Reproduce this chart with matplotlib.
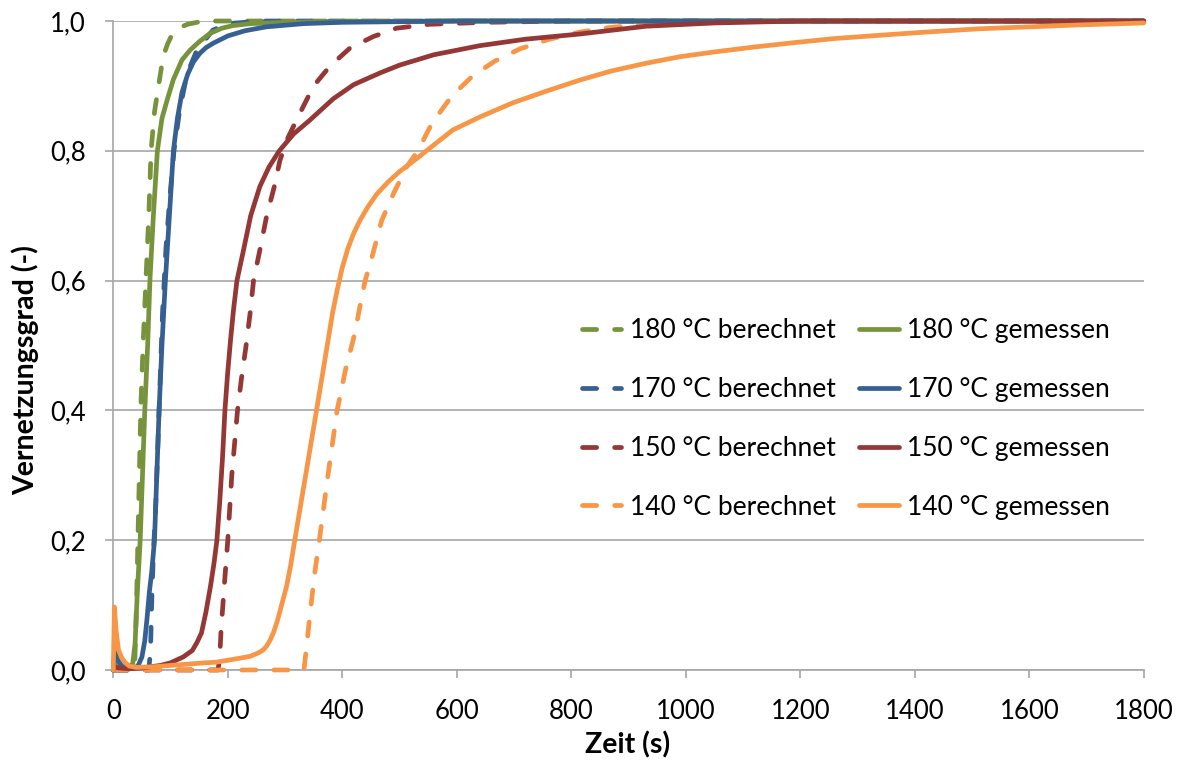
import matplotlib
matplotlib.use("Agg")
import matplotlib.pyplot as plt

plt.rcParams['font.family'] = ['Lato', 'DejaVu Sans']

# ---------------- data ----------------
t_180_ber = [0, 37, 39, 41, 43, 45.5, 48, 52, 57, 62, 66, 72, 78, 87, 95, 102, 116, 130, 146, 170, 200, 300, 600, 1800]
v_180_ber = [0, 0, 0.05, 0.12, 0.2, 0.3, 0.4, 0.5, 0.6, 0.7, 0.8, 0.86, 0.894, 0.945, 0.965, 0.978, 0.99, 0.995, 0.998, 1, 1, 1, 1, 1]

t_180_gem = [0, 3, 8, 15, 25, 34, 38, 42, 47, 51, 55, 60, 64, 70, 77, 85, 94, 105, 120, 134, 150, 169, 190, 209, 240, 300, 400, 600, 1000, 1800]
v_180_gem = [0, 0.02, 0.008, 0.003, 0.002, 0.01, 0.04, 0.12, 0.2, 0.3, 0.4, 0.5, 0.6, 0.7, 0.8, 0.85, 0.878, 0.91, 0.94, 0.955, 0.968, 0.981, 0.989, 0.993, 0.996, 0.998, 0.999, 1.0, 1.0, 1.0]

t_170_ber = [0, 62, 65, 67, 70, 74, 78, 82, 86, 92, 98, 106, 116, 129, 146, 174, 200, 260, 1800]
v_170_ber = [0, 0, 0.03, 0.1, 0.18, 0.25, 0.35, 0.45, 0.55, 0.65, 0.72, 0.8, 0.863, 0.919, 0.955, 0.986, 0.996, 1.0, 1.0]

t_170_gem = [0, 3, 8, 15, 25, 35, 43, 50, 55, 59, 63, 67, 72, 76, 80, 85, 91, 98, 105, 112, 120, 130, 140, 151, 162, 175, 200, 230, 267, 333, 400, 600, 1800]
v_170_gem = [0, 0.03, 0.015, 0.006, 0.003, 0.003, 0.006, 0.02, 0.045, 0.08, 0.12, 0.15, 0.2, 0.3, 0.4, 0.5, 0.6, 0.7, 0.8, 0.85, 0.89, 0.918, 0.937, 0.95, 0.959, 0.966, 0.977, 0.985, 0.991, 0.996, 0.998, 1.0, 1.0]

t_150_ber = [0, 183, 186, 188, 193, 200, 207, 217, 224, 232, 239, 245, 256, 268, 281, 291, 305, 326, 350, 378, 413, 454, 495, 553, 650, 800, 1800]
v_150_ber = [0, 0, 0.02, 0.057, 0.12, 0.2, 0.3, 0.4, 0.45, 0.5, 0.55, 0.6, 0.647, 0.7, 0.744, 0.785, 0.82, 0.858, 0.9, 0.93, 0.958, 0.976, 0.989, 0.995, 0.998, 1.0, 1.0]

t_150_gem = [0, 10, 30, 50, 82, 100, 122, 138, 146, 154, 162, 170, 176, 181, 186, 191, 195, 200, 205, 210, 216, 227, 240, 256, 272, 290, 315, 343, 384, 420, 466, 500, 560, 640, 720, 815, 931, 1050, 1200, 1800]
v_150_gem = [0.005, 0.003, 0.002, 0.003, 0.007, 0.011, 0.02, 0.03, 0.042, 0.057, 0.09, 0.13, 0.165, 0.2, 0.26, 0.33, 0.4, 0.46, 0.51, 0.555, 0.6, 0.645, 0.7, 0.745, 0.775, 0.8, 0.826, 0.847, 0.88, 0.902, 0.92, 0.932, 0.948, 0.962, 0.972, 0.98, 0.992, 0.997, 1.0, 1.0]

t_140_ber = [0, 333, 337, 345, 352, 360, 375, 391, 405, 422, 434, 440, 450, 469, 490, 513, 532, 557, 591, 626, 666, 710, 762, 815, 867, 931, 1000, 1100, 1250, 1800]
v_140_ber = [0, 0, 0.031, 0.097, 0.15, 0.2, 0.3, 0.4, 0.46, 0.519, 0.575, 0.6, 0.63, 0.693, 0.735, 0.776, 0.8, 0.843, 0.884, 0.914, 0.938, 0.957, 0.972, 0.983, 0.99, 0.995, 0.997, 0.999, 1.0, 1.0]

t_140_gem = [0, 2, 5, 9, 14, 20, 28, 40, 70, 100, 130, 160, 180, 200, 220, 239, 255, 262, 268, 274, 280, 286, 291, 297, 303, 310, 317, 336, 355, 370, 383, 391, 400, 410, 420, 431, 445, 460, 480, 500, 512, 530, 547, 570, 593, 640, 698, 760, 815, 870, 931, 990, 1047, 1120, 1193, 1260, 1338, 1420, 1512, 1600, 1687, 1800]
v_140_gem = [0, 0.097, 0.06, 0.031, 0.02, 0.012, 0.006, 0.004, 0.005, 0.007, 0.009, 0.011, 0.012, 0.015, 0.018, 0.021, 0.027, 0.031, 0.037, 0.046, 0.058, 0.074, 0.09, 0.11, 0.13, 0.162, 0.2, 0.3, 0.4, 0.48, 0.55, 0.585, 0.62, 0.65, 0.673, 0.693, 0.714, 0.733, 0.752, 0.768, 0.776, 0.788, 0.8, 0.816, 0.832, 0.852, 0.874, 0.893, 0.909, 0.923, 0.935, 0.945, 0.952, 0.96, 0.967, 0.973, 0.978, 0.983, 0.988, 0.991, 0.994, 0.997]

labels_ber = ["180 °C berechnet", "170 °C berechnet", "150 °C berechnet", "140 °C berechnet"]
labels_gem = ["180 °C gemessen", "170 °C gemessen", "150 °C gemessen", "140 °C gemessen"]
colors = ["#77933C", "#376092", "#953735", "#F79646"]

x_ticks = [0, 200, 400, 600, 800, 1000, 1200, 1400, 1600, 1800]
y_ticks = [0.0, 0.2, 0.4, 0.6, 0.8, 1.0]
y_tick_labels = ["0,0", "0,2", "0,4", "0,6", "0,8", "1,0"]

# ---------------- figure ----------------
fig = plt.figure(figsize=(11.85, 7.67), dpi=100)
ax = fig.add_axes([0.0956, 0.1265, 0.8696, 0.8461])

ber = [(t_180_ber, v_180_ber), (t_170_ber, v_170_ber), (t_150_ber, v_150_ber), (t_140_ber, v_140_ber)]
gem = [(t_180_gem, v_180_gem), (t_170_gem, v_170_gem), (t_150_gem, v_150_gem), (t_140_gem, v_140_gem)]

lw = 3.4
h_ber = []
h_gem = []
for (t, v), lab, c in zip(ber, labels_ber, colors):
    ln, = ax.plot(t, v, color=c, lw=lw, dashes=(3.0, 3.8), dash_capstyle='round',
                  solid_capstyle='round', label=lab, zorder=3, clip_on=False)
    h_ber.append(ln)
for (t, v), lab, c in zip(gem, labels_gem, colors):
    ln, = ax.plot(t, v, color=c, lw=lw, solid_capstyle='round', solid_joinstyle='round',
                  label=lab, zorder=3, clip_on=False)
    h_gem.append(ln)

ax.set_xlim(0, 1800)
ax.set_ylim(0, 1.0)
ax.set_xticks(x_ticks)
ax.set_xticklabels([str(x) for x in x_ticks])
ax.set_yticks(y_ticks)
ax.set_yticklabels(y_tick_labels)

ax.grid(axis='y', color='#A6A6A6', lw=1.2, zorder=0)
ax.set_axisbelow(True)
for s in ['top', 'right']:
    ax.spines[s].set_visible(False)
for s in ['left', 'bottom']:
    ax.spines[s].set_color('#A6A6A6')
    ax.spines[s].set_linewidth(1.2)
ax.tick_params(axis='both', direction='out', length=6, width=1.2, color='#A6A6A6',
               labelsize=18.5, labelcolor='black')
ax.tick_params(axis='x', pad=15)
ax.tick_params(axis='y', pad=14)

ax.set_xlabel("Zeit (s)", fontsize=20.5, fontweight='bold')
ax.set_ylabel("Vernetzungsgrad (-)", fontsize=20.5, fontweight='bold')
ax.xaxis.label.set_va('center')
ax.yaxis.label.set_va('center')
ax.xaxis.set_label_coords(0.4988, -0.1156)
ax.yaxis.set_label_coords(-0.0857, 0.462)

leg = ax.legend(h_ber + h_gem, labels_ber + labels_gem, ncol=2, frameon=False,
                loc='upper left', bbox_to_anchor=(0.455, 0.542), borderpad=0, borderaxespad=0,
                fontsize=19, handlelength=1.49, handletextpad=0.32, columnspacing=0.89,
                labelspacing=1.28)

fig.savefig("out.png", dpi=100)
